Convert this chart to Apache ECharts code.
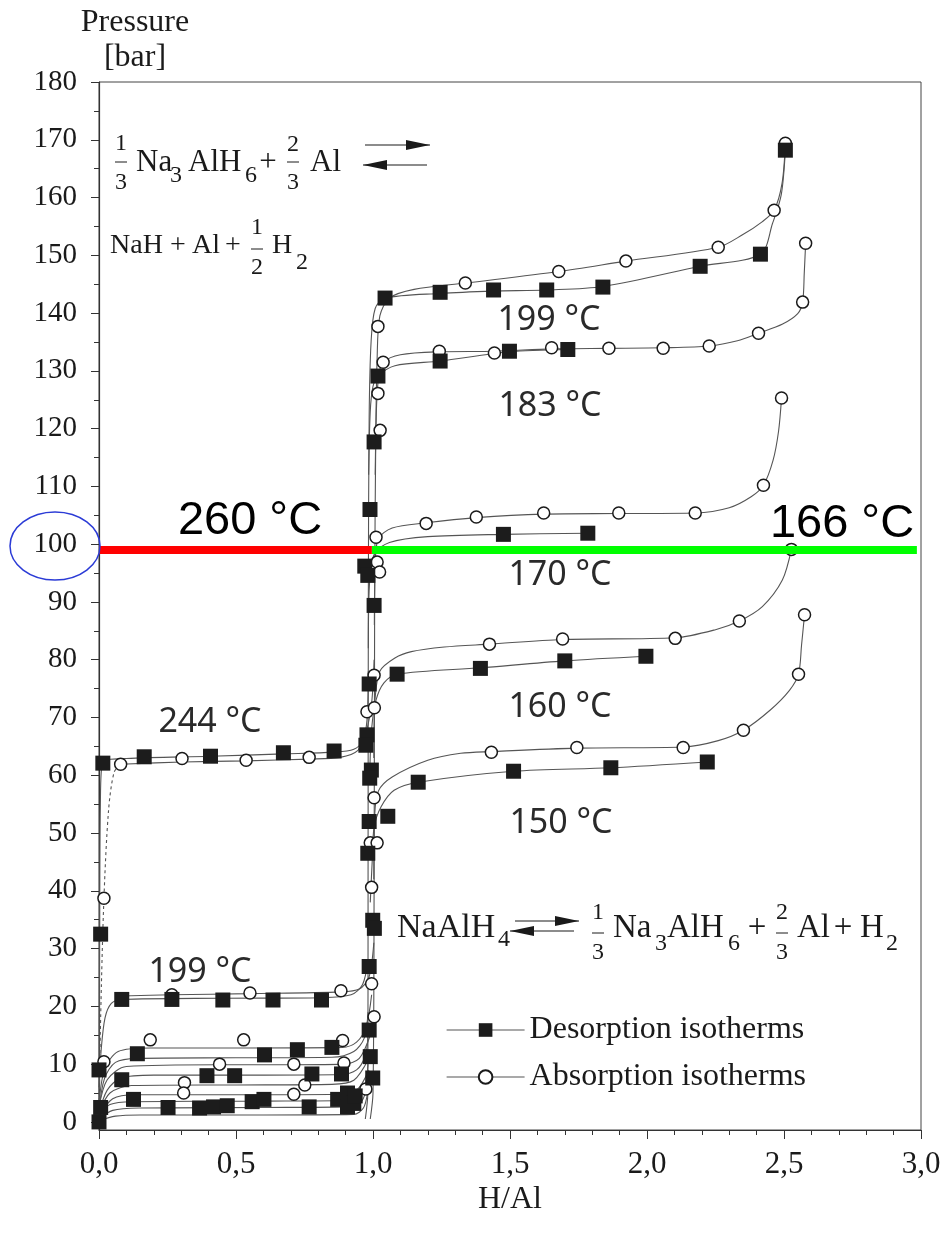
<!DOCTYPE html>
<html>
<head>
<meta charset="utf-8">
<script src="https://cdn.jsdelivr.net/npm/echarts/dist/echarts.min.js"></script>
<style>
  html, body { margin: 0; background: #fff; }
  #main { width: 947px; height: 1235px; }
</style>
</head>
<body>
<div id="main"></div>
<script>
  // 坐标轴刻度
  var xTickLabels = ['0,0', '0,5', '1,0', '1,5', '2,0', '2,5', '3,0'];
  var yTickValues = [0, 10, 20, 30, 40, 50, 60, 70, 80, 90, 100, 110, 120, 130, 140, 150, 160, 170, 180];
  var yMinorValues = [5, 15, 25, 35, 45, 55, 65, 75, 85, 95, 105, 115, 125, 135, 145, 155, 165, 175];

  // 等温线 (H/Al, bar) —— 上平台
  var curveD199up = [[0.972,0.5],[0.981,5],[0.982,40],[0.983,90],[0.986,122],[0.993,135],[1.008,140.8],[1.044,142.6],[1.245,143.4],[1.44,143.8],[1.634,144.0],[1.839,144.6],[2.194,148.1],[2.414,150.2],[2.458,155.5],[2.49,160.5],[2.505,168.2]];
  var curveA199up = [[0.99,0.5],[1.0,5],[1.004,40],[1.006,90],[1.01,118],[1.015,132],[1.025,139.5],[1.06,142.6],[1.15,144.1],[1.337,145.2],[1.678,147.2],[1.923,149.0],[2.26,151.4],[2.35,153.6],[2.42,155.8],[2.464,157.8],[2.493,162.5],[2.505,169.4]];
  var curveD183 = [[0.984,112],[0.99,123],[1.0,127.3],[1.018,129.1],[1.08,130.9],[1.245,131.7],[1.498,133.3],[1.711,133.7]];
  var curveA183 = [[1.008,112],[1.013,124],[1.022,129.5],[1.037,131.5],[1.1,132.8],[1.242,133.3],[1.443,133.4],[1.652,133.8],[1.861,133.9],[2.059,134.0],[2.227,134.3],[2.33,135.2],[2.407,136.5],[2.495,138.1],[2.55,139.9],[2.568,141.9],[2.574,147],[2.579,152.1]];
  var curveD170 = [[0.983,82],[0.987,93],[1.005,98.3],[1.06,100.3],[1.2,101.3],[1.476,101.7],[1.784,101.9]];
  var curveA170 = [[1.005,86],[1.008,96],[1.018,100.8],[1.07,102.8],[1.194,103.7],[1.377,104.6],[1.623,105.2],[1.897,105.3],[2.176,105.4],[2.3,106.3],[2.38,108.2],[2.425,110.2],[2.46,114.5],[2.48,119.5],[2.491,125.3]];
  var curveD160 = [[0.988,60],[0.995,68],[1.011,73],[1.04,76],[1.088,77.5],[1.392,78.6],[1.7,79.8],[1.996,80.6]];
  var curveA160 = [[1.003,63],[1.006,72],[1.025,78],[1.08,80.3],[1.14,81.4],[1.26,82.2],[1.425,82.7],[1.692,83.5],[2.103,83.8],[2.25,85.2],[2.337,86.7],[2.421,89.2],[2.494,93.8],[2.527,99.1]];
  var curveD150 = [[0.99,38],[0.998,46],[1.004,51],[1.029,54.5],[1.077,57.4],[1.165,58.8],[1.513,60.7],[1.868,61.3],[2.22,62.3]];
  var curveA150 = [[1.003,42],[1.006,53],[1.02,57.3],[1.07,59.7],[1.2,62.6],[1.32,63.8],[1.432,64.1],[1.744,64.7],[2.132,64.9],[2.26,66],[2.352,67.8],[2.45,71.3],[2.52,74.7],[2.553,77.5],[2.564,82.5],[2.575,87.8]];

  // 等温线 —— 下平台
  var curveD244 = [[0,0],[0.002,30],[0.005,55],[0.014,62.4],[0.1,62.9],[0.407,63.3],[0.673,63.7],[0.858,64.0],[0.93,64.5],[0.962,66],[0.978,69.5],[0.983,78]];
  var curveA244dash = [[0,0.5],[0.006,18],[0.018,38.7],[0.035,54],[0.055,60.5],[0.079,61.9]];
  var curveA244 = [[0.079,61.9],[0.303,62.3],[0.537,62.5],[0.767,62.8],[0.88,63.1],[0.945,64.3],[0.975,67.5],[0.995,72.5],[1.004,80]];
  var curveD199low = [[0,6],[0.008,12.5],[0.022,18],[0.045,20.5],[0.083,21.2],[0.452,21.4],[0.812,21.5],[0.92,22],[0.962,23.8],[0.982,28]];
  var curveA199low = [[0.083,21.8],[0.266,22.0],[0.551,22.2],[0.883,22.5],[0.95,23],[0.985,25],[1.003,31]];
  var curveA13 = [[0,3],[0.02,9],[0.07,12.2],[0.187,12.8],[0.528,12.8],[0.889,12.9],[0.94,13.8],[0.975,16.5],[0.995,22]];
  var curveD11 = [[0,2],[0.02,7.5],[0.06,10.3],[0.14,11.0],[0.5,11.1],[0.85,11.2],[0.93,12.2],[0.968,14.5],[0.982,19]];
  var curveA10 = [[0,2.5],[0.03,7.3],[0.1,9.6],[0.44,9.9],[0.711,9.9],[0.894,10.0],[0.95,11],[0.99,15]];
  var curveD8 = [[0,1.5],[0.03,5.5],[0.08,7.6],[0.2,8.1],[0.6,8.1],[0.88,8.2],[0.94,9],[0.972,11.5],[0.982,15]];
  var curveA6 = [[0,1.5],[0.04,5],[0.12,6.3],[0.5,6.4],[0.85,6.5],[0.93,7.2],[0.985,11]];
  var curveA5 = [[0,1],[0.05,4],[0.13,4.7],[0.5,4.7],[0.87,4.8],[0.94,5.5],[0.985,9]];
  var curveD3 = [[0,1],[0.04,3],[0.12,3.5],[0.6,3.6],[0.9,3.7],[0.95,4.5],[0.972,6.5],[0.982,10]];
  var curveD2 = [[0,0.5],[0.05,2.0],[0.15,2.4],[0.6,2.5],[0.9,2.6],[0.955,3.4],[0.975,5.5],[0.982,8]];
  var curveD1 = [[0,0.2],[0.06,1.0],[0.15,1.2],[0.6,1.2],[0.93,1.3],[0.965,2.4],[0.98,5]];

  // 测量点: 实心方块 = 放氢, 空心圆 = 吸氢
  var desorptionUp = [[1.044,142.6],[1.245,143.6],[1.44,144.0],[1.634,144.0],[1.839,144.5],[2.194,148.1],[2.414,150.2],[2.505,168.2],[1.018,129.1],[1.245,131.7],[1.498,133.4],[1.711,133.7],[1.476,101.7],[1.784,101.9],[1.088,77.5],[1.392,78.5],[1.70,79.8],[1.996,80.6],[1.054,52.9],[1.165,58.8],[1.513,60.7],[1.868,61.3],[2.22,62.3]];
  var desorptionStep = [[1.004,117.7],[0.989,106.0],[0.97,96.2],[0.981,94.6],[1.004,89.4],[0.986,75.8],[0.978,67.0],[0.974,65.2],[0.994,60.9],[0.988,59.5],[0.986,52.0],[0.981,46.5],[0.999,34.9],[1.005,33.5],[0.986,26.9],[0.986,15.9],[0.99,11.3],[0.999,7.6]];
  var desorptionLow = [[0,0],[0.006,2.5],[0,9.0],[0.006,32.5],[0.014,62.1],[0.165,63.2],[0.407,63.3],[0.673,63.9],[0.858,64.2],[0.083,21.2],[0.266,21.2],[0.452,21.1],[0.635,21.1],[0.812,21.1],[0.14,11.8],[0.604,11.6],[0.724,12.5],[0.85,12.9],[0.083,7.3],[0.394,8.0],[0.495,8.0],[0.777,8.3],[0.885,8.3],[0.126,3.9],[0.559,3.5],[0.602,3.9],[0.871,3.9],[0.907,5.0],[0.252,2.5],[0.367,2.4],[0.418,2.6],[0.468,2.8],[0.767,2.6],[0.907,2.6],[0.93,3.2],[0.935,4.5]];
  var absorptionUp = [[1.337,145.2],[1.678,147.2],[1.923,149.0],[2.26,151.4],[2.464,157.8],[2.505,169.4],[1.018,137.7],[1.018,126.1],[1.026,119.7],[1.037,131.5],[1.242,133.4],[1.443,133.1],[1.652,134.0],[1.861,133.9],[2.059,133.9],[2.227,134.3],[2.407,136.5],[2.568,141.9],[2.579,152.1],[1.011,101.2],[1.194,103.6],[1.377,104.7],[1.623,105.4],[1.897,105.4],[2.176,105.4],[2.425,110.2],[2.491,125.3],[1.004,77.3],[1.425,82.7],[1.692,83.6],[2.103,83.7],[2.337,86.7],[2.527,99.1],[1.004,56.1],[1.432,64.0],[1.744,64.8],[2.132,64.8],[2.352,67.8],[2.553,77.5],[2.575,87.8]];
  var absorptionStep = [[1.015,96.9],[1.024,95.2],[0.978,71.0],[1.005,71.7],[0.99,48.3],[1.015,48.3],[0.995,40.6],[0.995,23.9],[1.004,18.2],[0.974,5.7]];
  var absorptionLow = [[0.018,38.7],[0.079,61.9],[0.303,62.9],[0.537,62.6],[0.767,63.1],[0.266,22.0],[0.551,22.3],[0.883,22.7],[0.018,10.4],[0.187,14.2],[0.528,14.2],[0.889,14.1],[0.44,10.0],[0.711,10.0],[0.894,10.2],[0.312,6.8],[0.309,5.0],[0.751,6.4],[0.711,4.8]];

  // 100 bar 标记线
  var redSegment = [[0, 99], [0.996, 99]];
  var greenSegment = [[0.996, 99], [2.985, 99]];

  var tempLabels = ['199 °C', '183 °C', '170 °C', '160 °C', '150 °C', '244 °C', '199 °C'];
  var bigLabels = ['260 °C', '166 °C'];

  var curves = [curveD199up, curveA199up, curveD183, curveA183, curveD170, curveA170, curveD160, curveA160,
    curveD150, curveA150, curveD244, curveA244, curveD199low, curveA199low, curveA13, curveD11, curveA10,
    curveD8, curveA6, curveA5, curveD3, curveD2, curveD1];

  var serif = 'Liberation Serif', sans = 'Noto Sans';
  var ink = '#1a1a1a';

  function t(x, y, s, size, fam, align, color) {
    return {
      type: 'text', x: x, y: y, silent: true, z: 100,
      style: {
        text: s, fontSize: size, fontFamily: fam, fill: color || ink,
        textAlign: align || 'left', align: align || 'left',
        textVerticalAlign: 'middle', verticalAlign: 'middle'
      }
    };
  }
  function hbar(x1, x2, y) {
    return { type: 'line', silent: true, z: 100, shape: { x1: x1, y1: y, x2: x2, y2: y }, style: { stroke: ink, lineWidth: 1 } };
  }
  function frac(cx, yn, yd, yb, n, d) {
    return [t(cx, yn, n, 24, serif, 'center'), hbar(cx - 6, cx + 6, yb), t(cx, yd, d, 24, serif, 'center')];
  }
  function arrow(x1, x2, y, dir) {
    var hx = dir > 0 ? x2 : x1, bx = dir > 0 ? x2 - 24 : x1 + 24;
    return [
      { type: 'line', silent: true, z: 100, shape: { x1: x1, y1: y, x2: x2, y2: y }, style: { stroke: ink, lineWidth: 1.2 } },
      { type: 'polygon', silent: true, z: 100, shape: { points: [[hx, y], [bx, y - 5], [bx, y + 5]] }, style: { fill: ink } }
    ];
  }

  var graphics = [].concat(
    // 纵轴、横轴标题
    t(135, 23, 'Pressure', 32, serif, 'center'),
    t(135, 58, '[bar]', 32, serif, 'center'),
    t(510, 1200, 'H/Al', 32, serif, 'center'),
    // 1/3 Na3AlH6 + 2/3 Al <=> NaH + Al + 1/2 H2
    frac(121, 144, 183, 162, '1', '3'),
    t(136, 163, 'Na', 31, serif), t(170, 176, '3', 24, serif),
    t(188, 163, 'AlH', 31, serif), t(245, 176, '6', 24, serif),
    t(268, 163, '+', 31, serif, 'center'),
    frac(293, 145, 183, 162, '2', '3'),
    t(310, 163, 'Al', 31, serif),
    arrow(365, 430, 145, 1), arrow(363, 427, 165, -1),
    t(110, 246, 'NaH', 28, serif), t(178, 246, '+', 28, serif, 'center'),
    t(192, 246, 'Al', 28, serif), t(233, 246, '+', 28, serif, 'center'),
    frac(257, 228, 268, 249, '1', '2'),
    t(272, 246, 'H', 28, serif), t(296, 263, '2', 24, serif),
    // NaAlH4 <=> 1/3 Na3AlH6 + 2/3 Al + H2
    t(397, 928, 'NaAlH', 34, serif), t(498, 940, '4', 24, serif),
    arrow(515, 579, 921, 1), arrow(510, 574, 931, -1),
    frac(598, 913, 953, 933, '1', '3'),
    t(613, 928, 'Na', 33, serif), t(655, 944, '3', 24, serif),
    t(667, 928, 'AlH', 33, serif), t(728, 944, '6', 24, serif),
    t(757, 928, '+', 33, serif, 'center'),
    frac(782, 913, 953, 933, '2', '3'),
    t(797, 928, 'Al', 33, serif), t(843, 928, '+', 33, serif, 'center'),
    t(860, 928, 'H', 33, serif), t(886, 944, '2', 24, serif),
    // 温度标注
    t(549, 320, tempLabels[0], 34, sans, 'center', '#2a2a2a'),
    t(550, 406, tempLabels[1], 34, sans, 'center', '#2a2a2a'),
    t(560, 575, tempLabels[2], 34, sans, 'center', '#2a2a2a'),
    t(560, 707, tempLabels[3], 34, sans, 'center', '#2a2a2a'),
    t(561, 823, tempLabels[4], 34, sans, 'center', '#2a2a2a'),
    t(210, 722, tempLabels[5], 34, sans, 'center', '#2a2a2a'),
    t(200, 972, tempLabels[6], 34, sans, 'center', '#2a2a2a'),
    t(250, 521, bigLabels[0], 47, 'Liberation Sans', 'center', '#000'),
    t(842, 524, bigLabels[1], 47, 'Liberation Sans', 'center', '#000'),
    // 蓝色椭圆圈出 100
    [{ type: 'ellipse', silent: true, z: 100, shape: { cx: 55, cy: 546, rx: 45, ry: 34 }, style: { fill: 'none', stroke: '#2b3bd6', lineWidth: 1.5 } }]
  );

  var series = curves.map(function (c) {
    return {
      type: 'line', data: c, smooth: 0.3, symbol: 'none', silent: true, clip: false, z: 2,
      lineStyle: { color: '#555', width: 1.1 }
    };
  });
  series.push({
    type: 'line', data: curveA244dash, smooth: 0.3, symbol: 'none', silent: true, clip: false, z: 2,
    lineStyle: { color: '#555', width: 1.1, type: [3, 3] }
  });
  series.push({
    name: 'Absorption isotherms', type: 'line', data: absorptionUp.concat(absorptionStep, absorptionLow),
    symbol: 'circle', symbolSize: 12, clip: false, z: 3,
    itemStyle: { color: '#fff', borderColor: ink, borderWidth: 1.5 },
    lineStyle: { width: 0, opacity: 0 }
  });
  series.push({
    name: 'Desorption isotherms', type: 'line', data: desorptionUp.concat(desorptionStep, desorptionLow),
    symbol: 'rect', symbolSize: 15, clip: false, z: 4,
    itemStyle: { color: '#1c1c1c' },
    lineStyle: { width: 0, opacity: 0 }
  });
  series.push({
    type: 'line', data: redSegment, symbol: 'none', silent: true, z: 6,
    lineStyle: { color: '#ff0000', width: 8, cap: 'butt' }
  });
  series.push({
    type: 'line', data: greenSegment, symbol: 'none', silent: true, z: 6,
    lineStyle: { color: '#00ff00', width: 8, cap: 'butt' }
  });

  var chart = echarts.init(document.getElementById('main'));
  var option = {
    animation: false,
    backgroundColor: '#fff',
    grid: { left: 99, right: 26, top: 82, bottom: 105, show: true, borderColor: '#444', borderWidth: 1 },
    legend: {
      orient: 'vertical', left: 446, top: 1013, padding: 0,
      itemWidth: 78, itemHeight: 17, itemGap: 13,
      textStyle: { fontFamily: serif, fontSize: 32, lineHeight: 34, color: ink },
      data: [
        { name: 'Desorption isotherms', lineStyle: { color: '#555', width: 1.2, opacity: 1 } },
        { name: 'Absorption isotherms', lineStyle: { color: '#555', width: 1.2, opacity: 1 } }
      ]
    },
    xAxis: {
      type: 'value', min: 0, max: 3, interval: 0.5,
      axisLine: { onZero: false, lineStyle: { color: '#333', width: 1.2 } },
      axisTick: { length: 9, lineStyle: { color: '#333' } },
      minorTick: { show: true, splitNumber: 5, length: 5, lineStyle: { color: '#333' } },
      splitLine: { show: false },
      axisLabel: {
        margin: 19, fontFamily: serif, fontSize: 31, color: ink,
        formatter: function (v) { return xTickLabels[Math.round(v / 0.5)]; }
      }
    },
    yAxis: [{
      type: 'value', min: -1.4, max: 180,
      axisLine: { show: true, onZero: false, lineStyle: { color: '#333', width: 1.2 } },
      axisTick: { show: true, customValues: yMinorValues, length: 5, lineStyle: { color: '#333' } },
      splitLine: { show: false },
      axisLabel: { customValues: yTickValues, margin: 22, fontFamily: serif, fontSize: 29, color: ink }
    }, {
      type: 'value', min: -1.4, max: 180, position: 'left',
      axisLine: { show: false },
      axisTick: { show: true, customValues: yTickValues, length: 8, lineStyle: { color: '#333' } },
      axisLabel: { show: false },
      splitLine: { show: false }
    }],
    graphic: graphics,
    series: series
  };
  chart.setOption(option);
</script>
</body>
</html>
